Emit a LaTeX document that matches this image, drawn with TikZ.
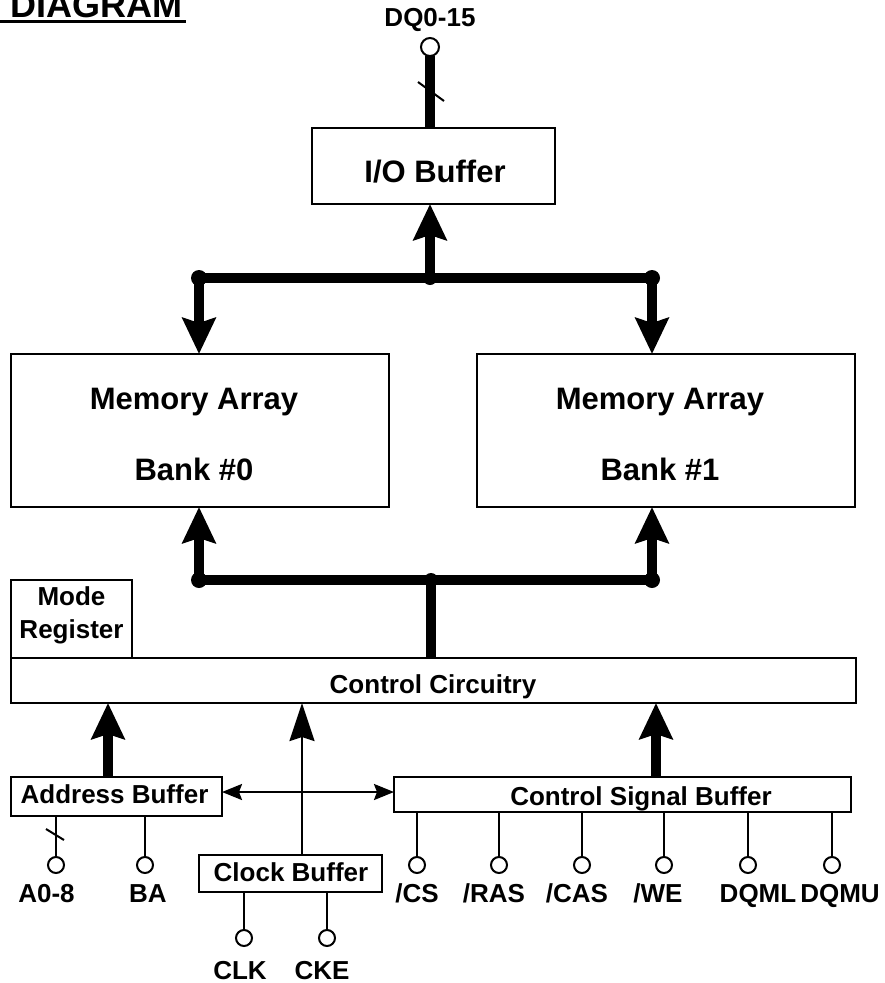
\documentclass[tikz,border=0pt]{standalone}
\usepackage{fontspec}
\setmainfont{Liberation Sans}
\usetikzlibrary{arrows.meta}
\begin{document}
\begin{tikzpicture}[x=1pt,y=-1pt,
  box/.style={draw, line width=2.2pt, inner sep=0pt, outer sep=0pt},
  txt/.style={anchor=base, inner sep=0pt, font=\bfseries\fontsize{26}{26}\selectfont},
  bigtxt/.style={anchor=base, inner sep=0pt, font=\bfseries\fontsize{31}{31}\selectfont},
  busline/.style={line width=10pt},
  fatarrow/.style={line width=10pt, -{Stealth[length=36pt,width=33pt,inset=5pt]}},
  thinarrow/.style={line width=2.5pt, -{Stealth[length=38pt,width=25pt,inset=4pt]}},
  duoarrow/.style={line width=2.2pt, {Stealth[length=20pt,width=16pt,inset=3pt]}-{Stealth[length=20pt,width=16pt,inset=3pt]}},
  pinwire/.style={line width=2pt},
  pin/.style={circle, draw, fill=white, line width=2pt, minimum size=16pt, inner sep=0pt, outer sep=0pt},
  busdot/.style={circle, fill=black, minimum size=16pt, inner sep=0pt}
]
\useasboundingbox[fill=white] (0,0) rectangle (884,983);

% title
\node[anchor=base west, inner sep=0pt, font=\bfseries\fontsize{36}{36}\selectfont] (title) at (10,17) {DIAGRAM};
\draw[line width=3pt] (0,21.5) -- (186,21.5);

% boxes
\node[box, minimum width=243pt, minimum height=76pt] (io) at (433.5,166) {};
\node[box, minimum width=378pt, minimum height=153pt] (bank0) at (200,430.5) {};
\node[box, minimum width=378pt, minimum height=153pt] (bank1) at (666,430.5) {};
\node[box, minimum width=845pt, minimum height=45pt] (cc) at (433.5,680.5) {};
\node[box, minimum width=121pt, minimum height=78pt] (mode) at (71.5,619) {};
\node[box, minimum width=211pt, minimum height=39pt] (ab) at (116.5,796.5) {};
\node[box, minimum width=183pt, minimum height=37pt] (cb) at (290.5,873.5) {};
\node[box, minimum width=457pt, minimum height=35pt] (csb) at (622.5,794.5) {};

% box texts
\node[bigtxt] (iot) at (435,182) {I/O Buffer};
\node[bigtxt] (b0a) at (194,409) {Memory Array};
\node[bigtxt] (b0b) at (194,480) {Bank \#0};
\node[bigtxt] (b1a) at (660,409) {Memory Array};
\node[bigtxt] (b1b) at (660,480) {Bank \#1};
\node[txt] (modea) at (71.5,605) {Mode};
\node[txt] (modeb) at (71.5,638) {Register};
\node[txt] (cct) at (433,693) {Control Circuitry};
\node[txt] (abt) at (114.5,803) {Address Buffer};
\node[txt] (cbt) at (291,881) {Clock Buffer};
\node[txt] (csbt) at (641,805) {Control Signal Buffer};

% DQ pin
\node[pin, minimum size=18pt] (dq) at (430,47) {};
\node[txt] (dql) at (430,26) {DQ0-15};
\draw[busline] (dq.south) -- (dq.south |- io.north);
\draw[line width=2pt] (418,82) -- (444,101);

% upper bus
\coordinate (tl) at (199,278);
\coordinate (tr) at (652,278);
\coordinate (tm) at (430,278);
\draw[busline] (tl) -- (tr);
\draw[fatarrow] (tm) -- (tm |- io.south);
\draw[fatarrow] (tl) -- (tl |- bank0.north);
\draw[fatarrow] (tr) -- (tr |- bank1.north);
\node[busdot] (dtl) at (tl) {};
\node[busdot] (dtr) at (tr) {};
\node[busdot, minimum size=14pt] (dtm) at (tm) {};

% lower bus
\coordinate (bl) at (199,580);
\coordinate (br) at (652,580);
\coordinate (bm) at (431,580);
\draw[busline] (bl) -- (br);
\draw[fatarrow] (bl) -- (bl |- bank0.south);
\draw[fatarrow] (br) -- (br |- bank1.south);
\draw[busline] (bm) -- (bm |- cc.north);
\node[busdot] (dbl) at (bl) {};
\node[busdot] (dbr) at (br) {};
\node[busdot, minimum size=14pt] (dbm) at (bm) {};

% arrows into control circuitry
\coordinate (xa) at (108,0);
\coordinate (xc) at (302,0);
\coordinate (xs) at (656,0);
\coordinate (dy) at (0,792);
\draw[fatarrow] (xa |- ab.north) -- (xa |- cc.south);
\draw[fatarrow] (xs |- csb.north) -- (xs |- cc.south);
\draw[thinarrow] (xc |- cb.north) -- (xc |- cc.south);
\draw[duoarrow] (ab.east |- dy) -- (csb.west |- dy);

% address buffer pins
\foreach \n/\x/\lx/\t in {a/56/46.5/A0-8, ba/145/148/BA} {
  \node[pin] (pin\n) at (\x,865) {};
  \draw[pinwire] (pin\n.north) -- (pin\n.north |- ab.south);
  \node[txt] (lab\n) at (\lx,902) {\t};
}
\draw[line width=2pt] (46,829) -- (64,840);

% control signal pins
\foreach \n/\x/\lx/\t in {cs/417/417/{/CS}, ras/499/494/{/RAS}, cas/582/577/{/CAS}, we/664/658/{/WE}, dqml/748/758/DQML, dqmu/832/840/DQMU} {
  \node[pin] (pin\n) at (\x,865) {};
  \draw[pinwire] (pin\n.north) -- (pin\n.north |- csb.south);
  \node[txt] (lab\n) at (\lx,902) {\t};
}

% clock pins
\foreach \n/\x/\lx/\t in {clk/244/240/CLK, cke/327/322/CKE} {
  \node[pin] (pin\n) at (\x,938) {};
  \draw[pinwire] (pin\n.north) -- (pin\n.north |- cb.south);
  \node[txt] (lab\n) at (\lx,979) {\t};
}
\end{tikzpicture}
\end{document}
